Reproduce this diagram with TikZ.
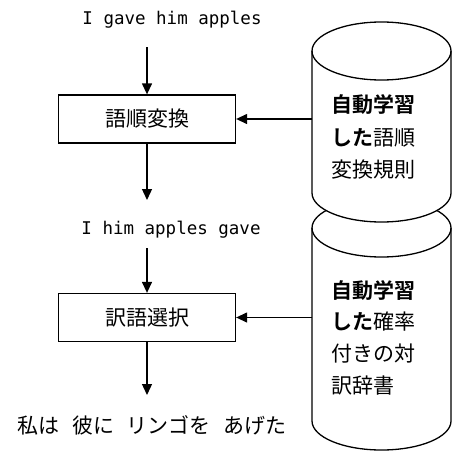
\documentclass[tikz,border=0pt]{standalone}
\usepackage{fontspec}
\newfontfamily\jp{Noto Sans CJK JP}[BoldFont={Noto Sans CJK JP Bold}]
\newfontfamily\mono{DejaVu Sans Mono}
\usetikzlibrary{arrows.meta}
\begin{document}
\begin{tikzpicture}[x=1pt,y=1pt,
  line width=1.3pt,
  arr/.style={-{Triangle[length=11pt,width=10pt]}},
  procbox/.style={draw, minimum width=177pt, minimum height=48pt, inner sep=0pt, font=\jp\fontsize{21}{21}\selectfont},
  entext/.style={inner sep=0pt, font=\mono\fontsize{17.5}{18}\selectfont},
  jptext/.style={inner sep=0pt, font=\jp\fontsize{21}{21}\selectfont},
  cyltext/.style={inner sep=0pt, anchor=west, align=left},
  cyl/.style={draw, fill=white, line width=1.3pt}
]
\useasboundingbox (0,0) rectangle (454,-452);

% lower cylinder
\draw[cyl] (312,-228) -- (312,-421) arc[start angle=180, end angle=360, x radius=69.5pt, y radius=29pt] -- (451,-228) arc[start angle=0, end angle=180, x radius=69.5pt, y radius=29pt] -- cycle;
\draw (312,-228) arc[start angle=180, end angle=360, x radius=69.5pt, y radius=29pt];
% upper cylinder
\draw[cyl] (312,-51) -- (312,-193) arc[start angle=180, end angle=360, x radius=69.5pt, y radius=29pt] -- (451,-51) arc[start angle=0, end angle=180, x radius=69.5pt, y radius=29pt] -- cycle;
\draw (312,-51) arc[start angle=180, end angle=360, x radius=69.5pt, y radius=29pt];

% cylinder texts
\node[cyltext, font=\jp\fontsize{21}{32.5}\selectfont] (db1) at (331,-137) {{\bfseries 自動学習}\\{\bfseries した}語順\\変換規則};
\node[cyltext, font=\jp\fontsize{21}{31.7}\selectfont] (db2) at (331,-337.5) {{\bfseries 自動学習}\\{\bfseries した}確率\\付きの対\\訳辞書};

% texts
\node[entext] (t1) at (172,-20) {I gave him apples};
\node[entext] (t2) at (171,-230) {I him apples gave};
\node[jptext] (t3) at (152,-425) {私は\hspace{0.6em}彼に\hspace{0.6em}リンゴを\hspace{0.6em}あげた};

% boxes
\node[procbox] (b1) at (147,-119) {語順変換};
\node[procbox] (b2) at (147,-317.5) {訳語選択};

% arrow endpoints
\coordinate (a1) at (147,-47);
\coordinate (a2) at (147,-200);
\coordinate (a3) at (147,-248);
\coordinate (a4) at (147,-395);
\coordinate (c1) at (312,-119);
\coordinate (c2) at (312,-317.5);

\draw[arr] (a1) -- (b1.north);
\draw[arr] (b1.south) -- (a2);
\draw[arr] (a3) -- (b2.north);
\draw[arr] (b2.south) -- (a4);
\draw[arr] (c1) -- (b1.east);
\draw[arr] (c2) -- (b2.east);
\end{tikzpicture}
\end{document}
